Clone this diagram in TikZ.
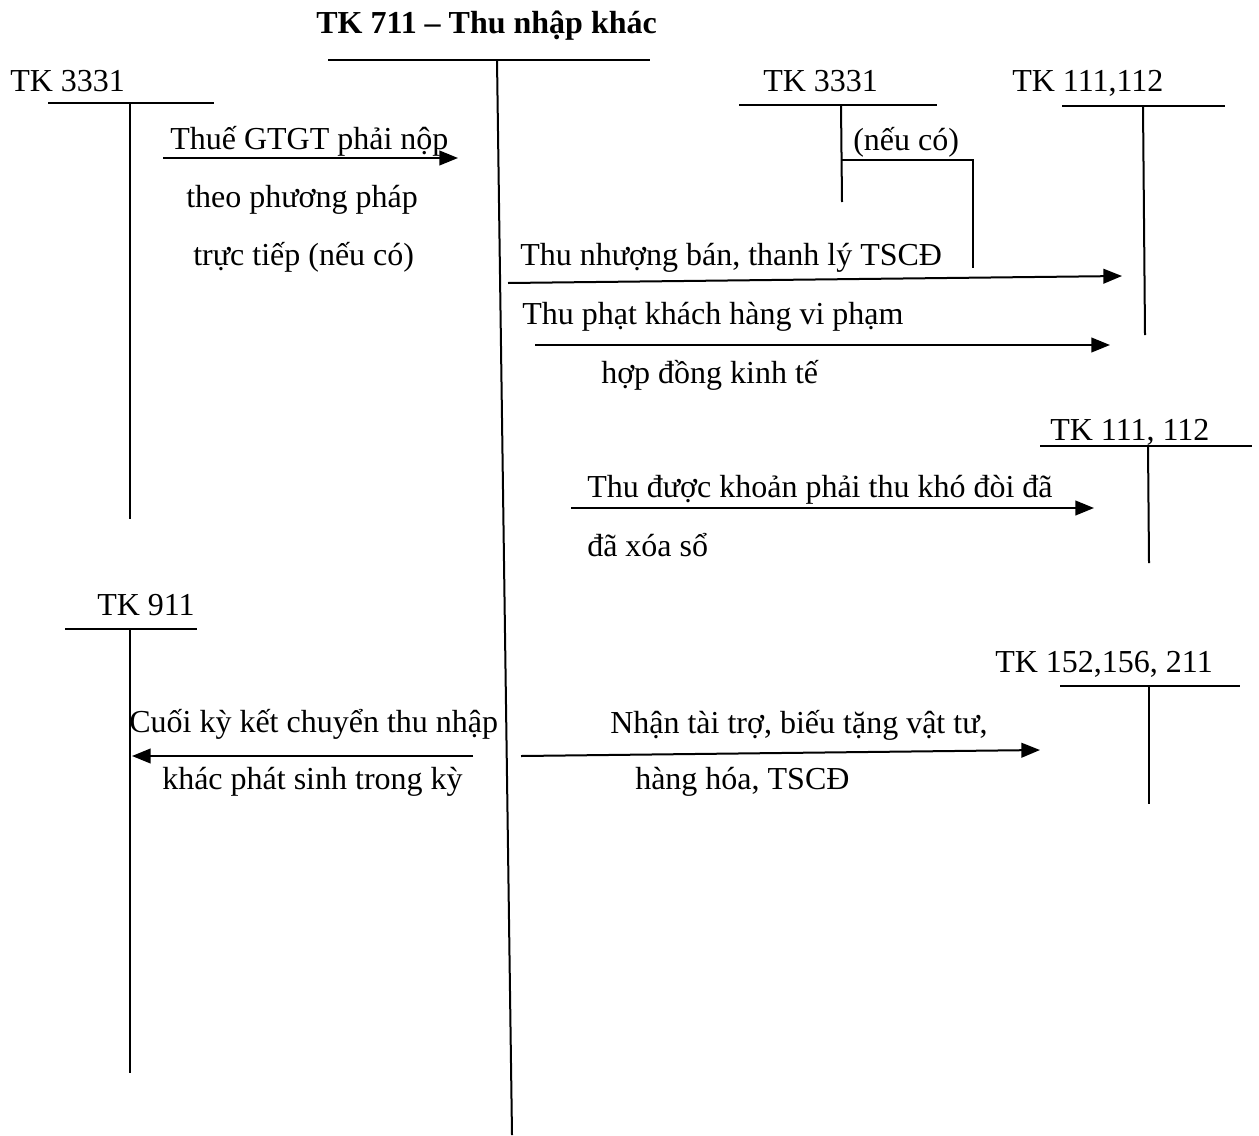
\documentclass[tikz,border=0pt]{standalone}
\usepackage{fontspec}
\setmainfont{Liberation Serif}
\usetikzlibrary{arrows.meta}
\begin{document}
\begin{tikzpicture}[x=0.75pt,y=-0.75pt,
  acc/.style={line width=1.5pt},
  flow/.style={line width=1.5pt,-{Triangle[length=14pt,width=11pt]}},
  lbl/.style={anchor=base west,inner sep=0pt,font=\fontsize{24}{28}\selectfont},
  ttl/.style={anchor=base west,inner sep=0pt,font=\fontsize{24}{28}\selectfont\bfseries}]
\useasboundingbox (0,0) rectangle (1259,1135);

% Title and TK 711
\node[ttl] (title) at (316,33) {TK 711 – Thu nhập khác};
\coordinate (a711l) at (328,60);
\coordinate (a711r) at (650,60);
\coordinate (a711t) at (497,60);
\coordinate (a711b) at (512,1135);
\draw[acc] (a711l) -- (a711r);
\draw[acc] (a711t) -- (a711b);

% TK 3331 left
\node[lbl] (n3331a) at (10,91) {TK 3331};
\coordinate (b1l) at (48,103);
\coordinate (b1r) at (214,103);
\coordinate (b1t) at (130,103);
\coordinate (b1b) at (130,519);
\draw[acc] (b1l) -- (b1r);
\draw[acc] (b1t) -- (b1b);

% TK 3331 right
\node[lbl] (n3331b) at (763,91) {TK 3331};
\coordinate (b2l) at (739,105);
\coordinate (b2r) at (937,105);
\coordinate (b2t) at (841,105);
\coordinate (b2b) at (842,202);
\coordinate (b2j) at (842,160);
\coordinate (b2k) at (973,160);
\coordinate (b2e) at (973,268);
\draw[acc] (b2l) -- (b2r);
\draw[acc] (b2t) -- (b2b);
\draw[acc] (b2j) -- (b2k) -- (b2e);
\node[lbl] (neuco) at (853,150) {(nếu có)};

% TK 111,112 top
\node[lbl] (n111a) at (1012,91) {TK 111,112};
\coordinate (b3l) at (1062,106);
\coordinate (b3r) at (1225,106);
\coordinate (b3t) at (1143,106);
\coordinate (b3b) at (1145,335);
\draw[acc] (b3l) -- (b3r);
\draw[acc] (b3t) -- (b3b);

% TK 111, 112 second
\node[lbl] (n111b) at (1050,440) {TK 111, 112};
\coordinate (b4l) at (1040,446);
\coordinate (b4r) at (1252,446);
\coordinate (b4t) at (1148,446);
\coordinate (b4b) at (1149,563);
\draw[acc] (b4l) -- (b4r);
\draw[acc] (b4t) -- (b4b);

% TK 911
\node[lbl] (n911) at (97,615) {TK 911};
\coordinate (b5l) at (65,629);
\coordinate (b5r) at (197,629);
\coordinate (b5t) at (130,629);
\coordinate (b5b) at (130,1073);
\draw[acc] (b5l) -- (b5r);
\draw[acc] (b5t) -- (b5b);

% TK 152,156, 211
\node[lbl] (n152) at (995,672) {TK 152,156, 211};
\coordinate (b6l) at (1060,686);
\coordinate (b6r) at (1240,686);
\coordinate (b6t) at (1149,686);
\coordinate (b6b) at (1149,804);
\draw[acc] (b6l) -- (b6r);
\draw[acc] (b6t) -- (b6b);

% Arrow 1: Thue GTGT
\coordinate (f1s) at (163,158);
\coordinate (f1e) at (458,158);
\draw[flow] (f1s) -- (f1e);
\node[lbl] (t1a) at (170,149) {Thuế GTGT phải nộp};
\node[lbl] (t1b) at (186,207) {theo phương pháp};
\node[lbl] (t1c) at (193,265) {trực tiếp (nếu có)};

% Arrow 2: Thu nhuong ban
\coordinate (f2s) at (508,283);
\coordinate (f2e) at (1122,276);
\draw[flow] (f2s) -- (f2e);
\node[lbl] (t2) at (520,265) {Thu nhượng bán, thanh lý TSCĐ};

% Arrow 3: Thu phat
\coordinate (f3s) at (535,345);
\coordinate (f3e) at (1110,345);
\draw[flow] (f3s) -- (f3e);
\node[lbl] (t3a) at (522,324) {Thu phạt khách hàng vi phạm};
\node[lbl] (t3b) at (601,383) {hợp đồng kinh tế};

% Arrow 4: Thu duoc khoan phai thu
\coordinate (f4s) at (571,508);
\coordinate (f4e) at (1094,508);
\draw[flow] (f4s) -- (f4e);
\node[lbl] (t4a) at (587,497) {Thu được khoản phải thu khó đòi đã};
\node[lbl] (t4b) at (587,556) {đã xóa sổ};

% Arrow 5: Cuoi ky ket chuyen
\coordinate (f5s) at (473,756);
\coordinate (f5e) at (132,756);
\draw[flow] (f5s) -- (f5e);
\node[lbl] (t5a) at (129,732) {Cuối kỳ kết chuyển thu nhập};
\node[lbl] (t5b) at (162,789) {khác phát sinh trong kỳ};

% Arrow 6: Nhan tai tro
\coordinate (f6s) at (521,756);
\coordinate (f6e) at (1040,750);
\draw[flow] (f6s) -- (f6e);
\node[lbl] (t6a) at (610,733) {Nhận tài trợ, biếu tặng vật tư,};
\node[lbl] (t6b) at (635,789) {hàng hóa, TSCĐ};
\end{tikzpicture}
\end{document}
